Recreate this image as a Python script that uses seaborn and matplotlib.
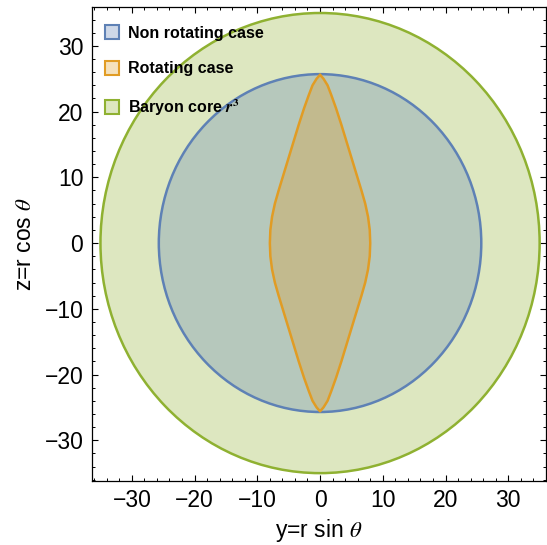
import numpy as np
import pandas as pd
import matplotlib
matplotlib.use("Agg")
import matplotlib.pyplot as plt
import matplotlib.patches as mpatches
from matplotlib.ticker import MultipleLocator
import seaborn as sns

# ---- data ----
labels = ["Non rotating case", "Rotating case", r"Baryon core $\boldsymbol{r}^{\mathbf{3}}$"]
colors = ["#5E81B5", "#E19C24", "#8FB131"]
r_nonrot = 25.7          # radius of non-rotating star
r_core = 35.0            # baryon core radius
# rotating case boundary, first quadrant: z and half-width y
rot_z = [25.6, 25.0, 24.0, 22.5, 20.5, 18.0, 15.5, 13.0, 10.5, 8.0, 6.0, 4.0, 2.0, 0.0]
rot_y = [0.0, 0.55, 1.2, 1.8, 2.55, 3.4, 4.2, 5.0, 5.8, 6.6, 7.2, 7.65, 7.92, 8.0]
xticks = [-30, -20, -10, 0, 10, 20, 30]
yticks = [-30, -20, -10, 0, 10, 20, 30]

sns.set_theme(style="ticks")
plt.rcParams["font.family"] = ["Liberation Sans", "DejaVu Sans"]
plt.rcParams["mathtext.fontset"] = "stix"
plt.rcParams["text.color"] = "black"

fig = plt.figure(figsize=(5.47, 5.45), dpi=100)
ax = fig.add_axes([0.1676, 0.1174, 0.8304, 0.8696])

alpha = 0.3
lw = 1.8
# baryon core
ax.add_patch(mpatches.Circle((0, 0), r_core, facecolor=colors[2], alpha=alpha, lw=0, zorder=1))
ax.add_patch(mpatches.Circle((0, 0), r_core, facecolor="none", edgecolor=colors[2], lw=lw, zorder=4))
# non rotating
ax.add_patch(mpatches.Circle((0, 0), r_nonrot, facecolor=colors[0], alpha=alpha, lw=0, zorder=2))
ax.add_patch(mpatches.Circle((0, 0), r_nonrot, facecolor="none", edgecolor=colors[0], lw=lw, zorder=5))

# rotating case closed polygon (mirror of first quadrant)
ry = np.array(rot_y)
rz = np.array(rot_z)
py = np.concatenate([ry, ry[::-1][1:], -ry[1:], -ry[::-1][1:]])
pz = np.concatenate([rz, -rz[::-1][1:], -rz[1:], rz[::-1][1:]])
df = pd.DataFrame({"y": py, "z": pz})
ax.fill(df["y"], df["z"], facecolor=colors[1], alpha=alpha, lw=0, zorder=3)
sns.lineplot(data=df, x="y", y="z", sort=False, estimator=None, color=colors[1],
             lw=lw, ax=ax, zorder=6)

ax.set_xlim(-36.4, 36.0)
ax.set_ylim(-36.2, 35.9)
ax.set_xticks(xticks)
ax.set_yticks(yticks)
ax.xaxis.set_minor_locator(MultipleLocator(2))
ax.yaxis.set_minor_locator(MultipleLocator(2))
ax.tick_params(which="both", direction="in", top=True, right=True, color="black")
ax.tick_params(which="major", length=4.5, width=0.8, labelsize=16.5, pad=6, labelcolor="black")
ax.tick_params(which="minor", length=2.3, width=0.7)
for s in ax.spines.values():
    s.set_color("black")
    s.set_linewidth(0.9)

ax.set_xlabel(r"y=r sin $\theta$", fontsize=16.5, color="black", labelpad=3)
ax.set_ylabel(r"z=r cos $\theta$", fontsize=16.5, color="black", labelpad=6)

handles = [mpatches.Patch(facecolor=matplotlib.colors.to_rgba(c, alpha), edgecolor=c, lw=1.5)
           for c in colors]
leg = ax.legend(handles, labels, loc="upper left", frameon=False,
                bbox_to_anchor=(-0.011, 1.0),
                prop={"weight": "bold", "size": 11.5},
                handlelength=0.9, handleheight=0.9, handletextpad=0.55,
                labelspacing=1.3, borderaxespad=0.85, borderpad=0.3)

fig.savefig("out.png", dpi=100)
